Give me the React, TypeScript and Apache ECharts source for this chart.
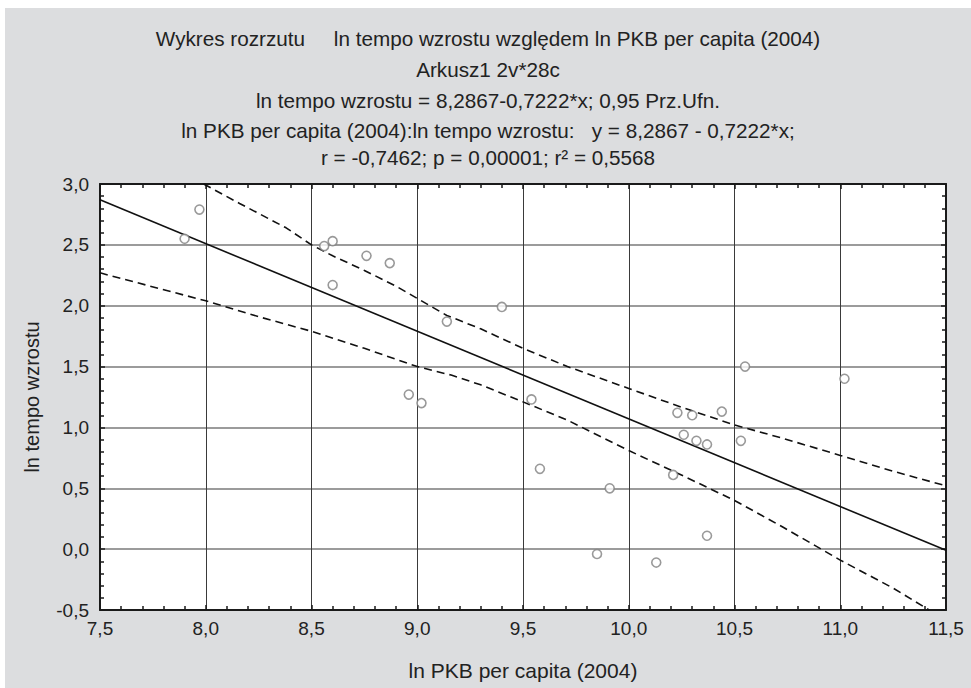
import React, { useEffect, useRef } from "react";
import * as echarts from "echarts";

// ---- data ----
const titleLines = [
  "Wykres rozrzutu     ln tempo wzrostu względem ln PKB per capita (2004)",
  "Arkusz1 2v*28c",
  "ln tempo wzrostu = 8,2867-0,7222*x; 0,95 Prz.Ufn.",
  "ln PKB per capita (2004):ln tempo wzrostu:   y = 8,2867 - 0,7222*x;",
  "r = -0,7462; p = 0,00001; r² = 0,5568",
];
const xAxisName = "ln PKB per capita (2004)";
const yAxisName = "ln tempo wzrostu";

const scatterX = [7.9, 7.97, 8.56, 8.6, 8.6, 8.76, 8.87, 9.14, 8.96, 9.02, 9.4, 9.54, 10.55, 11.02, 10.23, 10.3, 10.44, 10.26, 10.32, 10.37, 10.53, 9.58, 10.21, 9.91, 10.37, 9.85, 10.13];
const scatterY = [2.55, 2.79, 2.49, 2.53, 2.17, 2.41, 2.35, 1.87, 1.27, 1.2, 1.99, 1.23, 1.5, 1.4, 1.12, 1.1, 1.13, 0.94, 0.89, 0.86, 0.89, 0.66, 0.61, 0.5, 0.11, -0.04, -0.11];

const regX = [7.5, 11.5];
const regY = [2.87, -0.01];

const upperX = [7.99, 8.16, 8.38, 8.5, 8.6, 8.75, 8.9, 9.0, 9.14, 9.3, 9.5, 9.71, 10.0, 10.26, 10.5, 10.73, 11.0, 11.25, 11.5];
const upperY = [3.0, 2.84, 2.64, 2.5, 2.41, 2.29, 2.16, 2.06, 1.92, 1.81, 1.65, 1.5, 1.32, 1.16, 1.02, 0.91, 0.77, 0.64, 0.52];

const lowerX = [7.5, 8.0, 8.27, 8.5, 8.75, 9.0, 9.16, 9.3, 9.5, 9.71, 10.0, 10.26, 10.5, 10.73, 11.0, 11.25, 11.42];
const lowerY = [2.27, 2.04, 1.9, 1.79, 1.65, 1.5, 1.43, 1.35, 1.21, 1.06, 0.81, 0.6, 0.4, 0.18, -0.09, -0.32, -0.5];

const X_MIN = 7.5, X_MAX = 11.5, X_STEP = 0.5;
const Y_MIN = -0.5, Y_MAX = 3.0, Y_STEP = 0.5;

const FONT = "'Liberation Sans', Arial, Helvetica, sans-serif";
const fmt = (v: number) => v.toFixed(1).replace(".", ",");

export default function App() {
  const ref = useRef<HTMLDivElement>(null);

  useEffect(() => {
    if (!ref.current) return;
    const chart = echarts.init(ref.current, undefined, { renderer: "svg" });
    const zip = (xs: number[], ys: number[]) => xs.map((x, i) => [x, ys[i]]);
    const axisLineStyle = { color: "#1a1a1a", width: 2 };
    const tickStyle = { color: "#1a1a1a", width: 1.5 };
    const titleTops = [20, 51, 82, 112, 139];

    chart.setOption({
      animation: false,
      backgroundColor: "#dcdddf",
      title: titleLines.map((t, i) => ({
        text: t,
        left: "center",
        top: titleTops[i],
        padding: 0,
        textStyle: { fontFamily: FONT, fontSize: 20.7, fontWeight: "normal", color: "#222" },
      })),
      grid: {
        left: 95,
        right: 25,
        top: 176,
        bottom: 78,
        show: true,
        backgroundColor: "#ffffff",
        borderWidth: 0,
      },
      xAxis: [
        {
          type: "value",
          position: "bottom",
          min: X_MIN,
          max: X_MAX,
          interval: X_STEP,
          name: xAxisName,
          nameLocation: "middle",
          nameGap: 50,
          nameTextStyle: { fontFamily: FONT, fontSize: 21, color: "#222" },
          axisLine: { show: true, onZero: false, lineStyle: axisLineStyle },
          axisTick: { show: true, inside: true, length: 5, lineStyle: tickStyle },
          minorTick: { show: true, splitNumber: 5, length: 4, lineStyle: tickStyle },
          axisLabel: { formatter: fmt, fontFamily: FONT, fontSize: 19, color: "#222", margin: 9 },
          splitLine: { show: true, lineStyle: { color: "#3a3a3a", width: 1 } },
          minorSplitLine: { show: false },
        },
        {
          type: "value",
          position: "top",
          min: X_MIN,
          max: X_MAX,
          interval: X_STEP,
          axisLine: { show: true, onZero: false, lineStyle: axisLineStyle },
          axisTick: { show: true, inside: true, length: 5, lineStyle: tickStyle },
          minorTick: { show: true, splitNumber: 5, length: 4, lineStyle: tickStyle },
          axisLabel: { show: false },
          splitLine: { show: false },
        },
      ],
      yAxis: [
        {
          type: "value",
          position: "left",
          min: Y_MIN,
          max: Y_MAX,
          interval: Y_STEP,
          name: yAxisName,
          nameLocation: "middle",
          nameGap: 58,
          nameTextStyle: { fontFamily: FONT, fontSize: 20, color: "#222" },
          axisLine: { show: true, onZero: false, lineStyle: axisLineStyle },
          axisTick: { show: true, inside: true, length: 5, lineStyle: tickStyle },
          minorTick: { show: true, splitNumber: 5, length: 4, lineStyle: tickStyle },
          axisLabel: { formatter: fmt, fontFamily: FONT, fontSize: 19, color: "#222", margin: 11 },
          splitLine: { show: true, lineStyle: { color: "#7a7a7a", width: 1.5 } },
        },
        {
          type: "value",
          position: "right",
          min: Y_MIN,
          max: Y_MAX,
          interval: Y_STEP,
          axisLine: { show: true, onZero: false, lineStyle: axisLineStyle },
          axisTick: { show: true, inside: true, length: 5, lineStyle: tickStyle },
          minorTick: { show: true, splitNumber: 5, length: 4, lineStyle: tickStyle },
          axisLabel: { show: false },
          splitLine: { show: false },
        },
      ],
      series: [
        {
          type: "line",
          name: "regression",
          data: zip(regX, regY),
          showSymbol: false,
          symbol: "none",
          lineStyle: { color: "#111", width: 1.6, type: "solid" },
          z: 3,
        },
        {
          type: "line",
          name: "upper 95%",
          data: zip(upperX, upperY),
          showSymbol: false,
          symbol: "none",
          lineStyle: { color: "#111", width: 1.6, type: [8, 5] },
          z: 3,
        },
        {
          type: "line",
          name: "lower 95%",
          data: zip(lowerX, lowerY),
          showSymbol: false,
          symbol: "none",
          lineStyle: { color: "#111", width: 1.6, type: [8, 5] },
          z: 3,
        },
        {
          type: "scatter",
          name: "data",
          data: zip(scatterX, scatterY),
          symbol: "circle",
          symbolSize: 9,
          itemStyle: { color: "#ffffff", borderColor: "#808080", borderWidth: 1.6 },
          z: 4,
        },
      ],
    });

    return () => chart.dispose();
  }, []);

  return (
    <div
      ref={ref}
      style={{ position: "absolute", left: 5, top: 8, width: 966, height: 680 }}
    />
  );
}
